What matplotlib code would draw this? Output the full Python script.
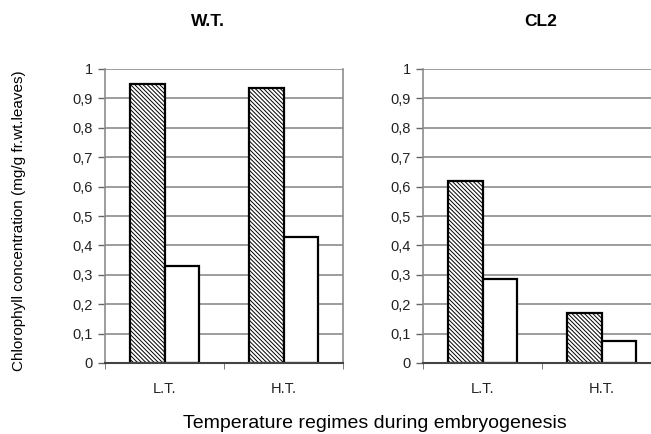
import numpy as np
import matplotlib.pyplot as plt

plt.rcParams['font.family'] = ['Liberation Sans', 'DejaVu Sans']
plt.rcParams['hatch.linewidth'] = 0.7

# data
regimes = ["L.T.", "H.T."]
wt_hatched = [0.95, 0.935]
wt_white = [0.33, 0.43]
cl2_hatched = [0.62, 0.17]
cl2_white = [0.285, 0.075]
yticks = np.arange(0, 1.01, 0.1)
ytick_labels = ["0" if t == 0 else ("1" if t == 1 else f"{t:.1f}".replace(".", ",")) for t in yticks]

fig = plt.figure(figsize=(6.51, 4.34), dpi=100)
ax1 = fig.add_axes([105/651, 1-363/434, 238/651, 294/434])
ax2 = fig.add_axes([423/651, 1-363/434, 238/651, 294/434])

w = 0.29
x = np.arange(len(regimes))
for ax, hv, wv in [(ax1, wt_hatched, wt_white), (ax2, cl2_hatched, cl2_white)]:
    ax.set_axisbelow(True)
    ax.yaxis.grid(True, color="#8c8c8c", linewidth=1.2)
    ax.bar(x - w/2, hv, w, color="white", edgecolor="black", hatch="\\" * 8, linewidth=1.6)
    ax.bar(x + w/2, wv, w, color="white", edgecolor="black", linewidth=1.6)
    ax.set_xlim(-0.5, 1.5)
    ax.set_ylim(0, 1)
    ax.set_yticks(yticks)
    ax.set_yticklabels(ytick_labels, fontsize=10.5, color="#222222")
    ax.set_xticks(x)
    ax.set_xticklabels(regimes, fontsize=10.5, color="#222222")
    ax.tick_params(axis="x", length=0, pad=14)
    ax.set_xticks([-0.5, 0.5, 1.5], minor=True)
    ax.tick_params(axis="x", which="minor", length=4, color="#666666")
    ax.tick_params(axis="y", length=5, color="#666666", width=1, pad=4)
    for s in ["right", "left"]:
        ax.spines[s].set_color("#8c8c8c")
        ax.spines[s].set_linewidth(1.2)
    ax.spines["top"].set_visible(False)
    ax.spines["bottom"].set_color("#444444")
    ax.spines["bottom"].set_linewidth(1.5)

fig.text(208/651, 1-22/434, "W.T.", ha="center", va="center", fontsize=12.5, fontweight="bold")
fig.text(541/651, 1-22/434, "CL2", ha="center", va="center", fontsize=12.5, fontweight="bold")
fig.text(19/651, 1-221/434, "Chlorophyll concentration (mg/g fr.wt.leaves)", rotation=90,
         ha="center", va="center", fontsize=11)
fig.text(375/651, 1-423/434, "Temperature regimes during embryogenesis", ha="center", va="center",
         fontsize=14)

fig.savefig("out.png", dpi=100)
